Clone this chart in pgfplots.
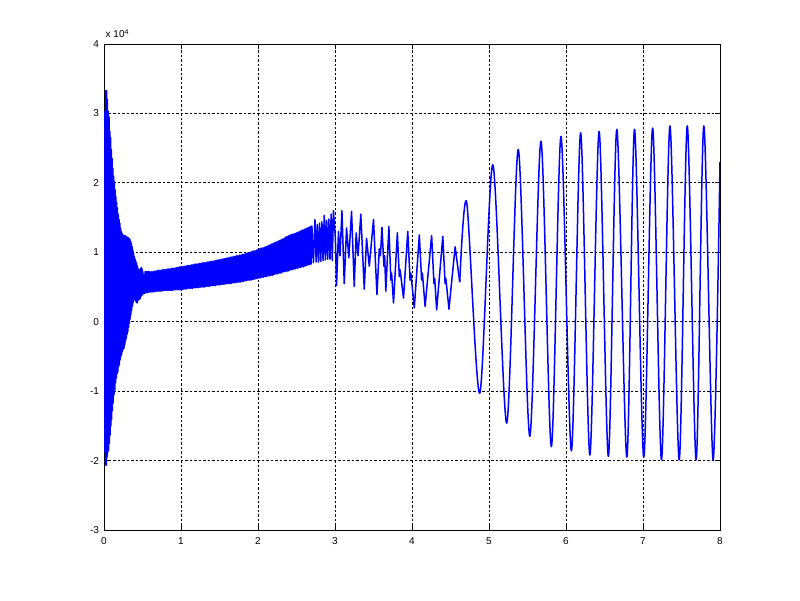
\documentclass[border=0pt]{standalone}
\usepackage{fontspec}
\setmainfont{Liberation Sans}
\usepackage{pgfplots}
\pgfplotsset{compat=1.18}
\definecolor{mblue}{RGB}{0,0,255}
\begin{document}
\begin{tikzpicture}
\useasboundingbox (0,0) rectangle (800pt,600pt);
\begin{axis}[
  at={(104pt,70pt)}, anchor=south west,
  width=616pt, height=486pt, scale only axis,
  xmin=0, xmax=8, ymin=-3, ymax=4,
  xtick={0,...,8}, ytick={-3,...,4},
  tick align=inside, major tick length=5pt,
  axis line style={line width=0.9pt},
  every tick/.style={black, line width=0.8pt},
  grid=major,
  major grid style={black, line width=1pt, dash pattern=on 2.5pt off 2pt},
  ticklabel style={font=\fontsize{10}{12}\selectfont},
  xticklabel style={yshift=-4pt},
  yticklabel style={xshift=-1.5pt},
  /pgf/number format/assume math mode=true,
  clip mode=individual,
]
% dense start (values in units of 10^4)
\addplot[mblue, line width=1.5pt, line join=round] coordinates {
(0.000,0.5) (0.005,3.03) (0.010,-1.87) (0.015,3.03) (0.020,-2.06) (0.025,3.33) (0.030,-2.07) (0.035,3.33)
(0.040,-1.95) (0.045,3.2) (0.050,-1.88) (0.055,3.03) (0.060,-1.85) (0.065,2.95) (0.070,-1.75) (0.075,2.74)
(0.080,-1.63) (0.085,2.65) (0.090,-1.5) (0.095,2.48) (0.100,-1.41) (0.105,2.35) (0.110,-1.28) (0.115,2.21)
(0.120,-1.17) (0.125,2.1) (0.130,-1.05) (0.135,2.02) (0.140,-0.98) (0.145,1.9) (0.150,-0.88) (0.155,1.80)
(0.160,-0.81) (0.165,1.72) (0.170,-0.75) (0.175,1.64) (0.180,-0.72) (0.185,1.55) (0.190,-0.65) (0.195,1.47)
(0.200,-0.62) (0.205,1.42) (0.210,-0.55) (0.215,1.35) (0.220,-0.5) (0.225,1.30) (0.230,-0.47) (0.235,1.27)
(0.240,-0.43) (0.245,1.25) (0.250,-0.40) (0.255,1.24) (0.260,-0.38) (0.265,1.24) (0.270,-0.33) (0.275,1.24)
(0.280,-0.28) (0.285,1.23) (0.290,-0.24) (0.295,1.22) (0.300,-0.18) (0.305,1.22) (0.310,-0.14) (0.315,1.21)
(0.320,-0.08) (0.325,1.2) (0.330,-0.02) (0.335,1.19) (0.340,0.04) (0.345,1.16) (0.350,0.10) (0.355,1.13)
(0.360,0.16) (0.365,1.08) (0.370,0.22) (0.375,1.03) (0.380,0.28) (0.385,0.98) (0.390,0.34) (0.395,0.94)
(0.400,0.32) (0.405,0.90) (0.410,0.30) (0.415,0.87) (0.420,0.28) (0.425,0.84) (0.430,0.27) (0.435,0.80)
(0.440,0.30) (0.445,0.76) (0.450,0.32) (0.455,0.72) (0.460,0.32) (0.465,0.75) (0.470,0.33) (0.475,0.77)
(0.480,0.36) (0.485,0.78) (0.490,0.38) (0.495,0.76) (0.500,0.39) (0.505,0.72) (0.510,0.40) (0.515,0.66)
(0.520,0.41) (0.525,0.68) (0.530,0.41) (0.535,0.72) (0.540,0.42) (0.545,0.72) (0.550,0.42) (0.555,0.72)
(0.560,0.42) (0.565,0.72) (0.570,0.42) (0.575,0.72) (0.580,0.43) (0.585,0.72) (0.590,0.43) (0.595,0.72)
(0.600,0.43)
(0.61,.43)(0.62,.72)(0.63,.43)(0.64,.72)(0.65,.43)(0.66,.73)(0.67,.44)(0.68,.73)(0.69,.44)(0.70,.74)
(0.71,.44)(0.72,.74)(0.73,.44)(0.74,.74)(0.75,.44)(0.76,.75)(0.77,.45)(0.78,.75)(0.79,.45)(0.80,.75)
(0.81,.45)(0.82,.76)(0.83,.45)(0.84,.76)(0.85,.45)(0.86,.76)(0.87,.45)(0.88,.77)(0.89,.45)(0.90,.77)
(0.91,.46)(0.92,.77)(0.93,.46)(0.94,.78)(0.95,.46)(0.96,.78)(0.97,.46)(0.98,.79)(0.99,.46)(1.00,.79)
(1.01,.46)(1.02,.79)(1.03,.47)(1.04,.80)(1.05,.47)(1.06,.80)(1.07,.47)(1.08,.81)(1.09,.48)(1.10,.81)
(1.11,.48)(1.12,.81)(1.13,.48)(1.14,.82)(1.15,.48)(1.16,.82)(1.17,.49)(1.18,.83)(1.19,.49)(1.20,.83)
(1.21,.49)(1.22,.83)(1.23,.49)(1.24,.84)(1.25,.50)(1.26,.84)(1.27,.50)(1.28,.85)(1.29,.50)(1.30,.85)
(1.31,.50)(1.32,.85)(1.33,.51)(1.34,.86)(1.35,.51)(1.36,.86)(1.37,.51)(1.38,.87)(1.39,.52)(1.40,.87)
(1.41,.52)(1.42,.87)(1.43,.52)(1.44,.88)(1.45,.52)(1.46,.88)(1.47,.53)(1.48,.89)(1.49,.53)(1.50,.89)
(1.51,.53)(1.52,.90)(1.53,.54)(1.54,.90)(1.55,.54)(1.56,.91)(1.57,.54)(1.58,.91)(1.59,.55)(1.60,.92)
(1.61,.55)(1.62,.92)(1.63,.55)(1.64,.93)(1.65,.55)(1.66,.93)(1.67,.56)(1.68,.94)(1.69,.56)(1.70,.94)
(1.71,.56)(1.72,.95)(1.73,.57)(1.74,.95)(1.75,.57)(1.76,.96)(1.77,.57)(1.78,.96)(1.79,.58)(1.80,.97)
(1.81,.58)(1.82,.97)(1.83,.59)(1.84,.98)(1.85,.59)(1.86,.99)(1.87,.60)(1.88,.99)(1.89,.60)(1.90,1.00)
(1.91,.60)(1.92,1.01)(1.93,.61)(1.94,1.02)(1.95,.61)(1.96,1.02)(1.97,.62)(1.98,1.03)(1.99,.62)(2.00,1.04)
(2.01,.63)(2.02,1.05)(2.03,.63)(2.04,1.06)(2.05,.64)(2.06,1.06)(2.07,.64)(2.08,1.07)(2.09,.65)(2.10,1.08)
(2.11,.65)(2.12,1.09)(2.13,.66)(2.14,1.10)(2.15,.66)(2.16,1.11)(2.17,.67)(2.18,1.12)(2.19,.67)(2.20,1.13)
(2.21,.68)(2.22,1.14)(2.23,.69)(2.24,1.15)(2.25,.69)(2.26,1.16)(2.27,.70)(2.28,1.17)(2.29,.70)(2.30,1.18)
(2.31,.71)(2.32,1.19)(2.33,.72)(2.34,1.20)(2.35,.72)(2.36,1.22)(2.37,.73)(2.38,1.23)(2.39,.73)(2.40,1.24)
(2.41,.74)(2.42,1.25)(2.43,.75)(2.44,1.26)(2.45,.75)(2.46,1.26)(2.47,.76)(2.48,1.27)(2.49,.76)(2.50,1.28)
(2.51,.77)(2.52,1.29)(2.53,.78)(2.54,1.30)(2.55,.78)(2.56,1.31)(2.57,.79)(2.58,1.32)(2.59,.79)(2.60,1.33)
(2.61,.80)(2.62,1.34)(2.63,.81)(2.64,1.35)(2.65,.82)(2.66,1.36)(2.67,.82)(2.68,1.37)(2.69,.83)(2.70,1.38)
(2.72,.85)(2.74,1.47)(2.755,.86)(2.77,1.40)(2.785,.86)(2.80,1.42)(2.815,.87)(2.83,1.44)(2.845,.88)(2.86,1.53)
(2.875,.89)(2.89,1.46)(2.905,.90)(2.92,1.48)(2.935,.90)(2.95,1.55)(2.965,.88)(2.98,1.60)
(3.005,1.20) (3.020,0.52) (3.045,1.30) (3.065,0.95) (3.090,1.60) (3.120,0.55) (3.150,1.35) (3.180,0.92)
(3.215,1.59) (3.250,0.51) (3.275,1.28) (3.300,0.95) (3.335,1.55) (3.380,0.47) (3.410,1.20) (3.445,0.80)
(3.500,1.47) (3.545,0.39) (3.575,1.05) (3.590,0.95) (3.610,1.36) (3.635,0.80) (3.645,0.95) (3.660,0.44)
(3.700,1.37) (3.725,0.60) (3.735,0.70) (3.760,0.27) (3.810,1.28) (3.835,0.65) (3.845,0.75) (3.890,0.34)
(3.945,1.30) (3.975,0.60) (3.985,0.70) (4.030,0.20) (4.095,1.25) (4.125,0.60) (4.135,0.70) (4.170,0.22)
(4.255,1.24) (4.285,0.55) (4.295,0.62) (4.320,0.17) (4.400,1.23) (4.430,0.55) (4.440,0.62) (4.480,0.18)
(4.560,1.08) (4.620,0.57)
};
% slow part
\addplot[mblue, line width=1.5pt, line join=round, smooth] coordinates {
(4.620,0.57) (4.710,1.72) (4.880,-1.03) (5.050,2.26) (5.230,-1.46) (5.380,2.48) (5.530,-1.65)
(5.675,2.60) (5.810,-1.80) (5.935,2.67) (6.070,-1.86) (6.190,2.72) (6.310,-1.92) (6.430,2.74)
(6.550,-1.94) (6.660,2.77) (6.790,-1.95) (6.890,2.77) (7.010,-1.95) (7.125,2.79) (7.240,-1.99)
(7.350,2.82) (7.470,-1.99) (7.575,2.82) (7.690,-1.99) (7.790,2.82) (7.910,-1.99) (8.000,2.30)
};
\node[anchor=south west, inner sep=0pt, font=\fontsize{10}{12}\selectfont]
  at (rel axis cs:0,1) [xshift=1.5pt, yshift=6pt] {x 10\textsuperscript{4}};
\end{axis}
\end{tikzpicture}
\end{document}
